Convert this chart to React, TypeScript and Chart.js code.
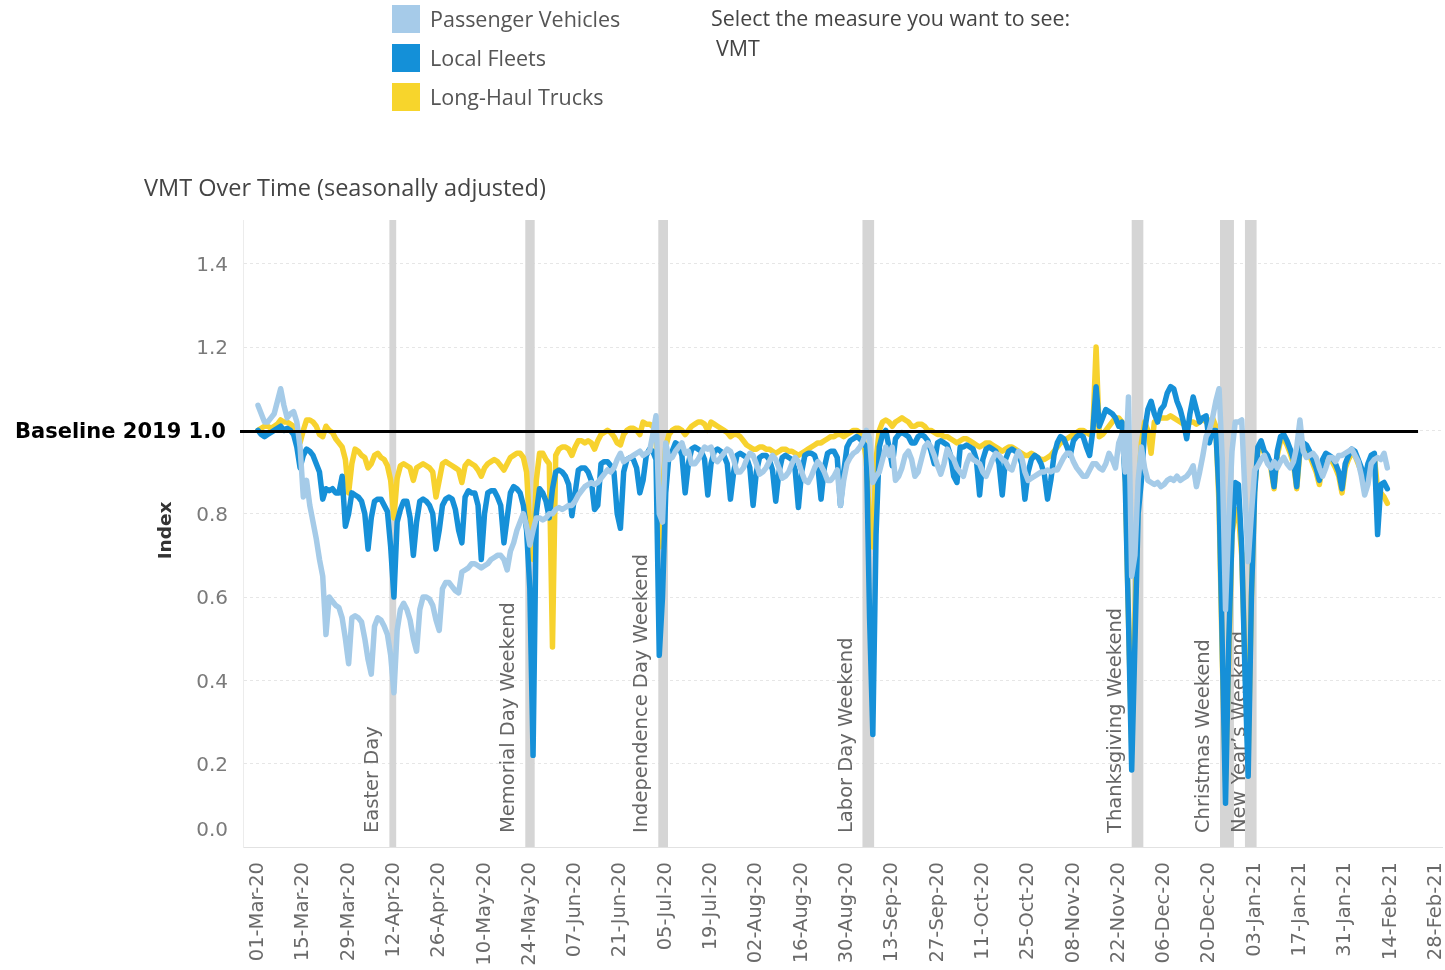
import React, { useEffect, useRef } from "react";
import { Chart, registerables } from "chart.js";

Chart.register(...registerables);

// x tick labels, one every 14 days starting 01-Mar-20 (day 0)
const tickLabels = [
  "01-Mar-20", "15-Mar-20", "29-Mar-20", "12-Apr-20", "26-Apr-20", "10-May-20", "24-May-20",
  "07-Jun-20", "21-Jun-20", "05-Jul-20", "19-Jul-20", "02-Aug-20", "16-Aug-20", "30-Aug-20",
  "13-Sep-20", "27-Sep-20", "11-Oct-20", "25-Oct-20", "08-Nov-20", "22-Nov-20", "06-Dec-20",
  "20-Dec-20", "03-Jan-21", "17-Jan-21", "31-Jan-21", "14-Feb-21", "28-Feb-21",
];
const tickStepDays = 14;

const yTicks = [0, 0.2, 0.4, 0.6, 0.8, 1.0, 1.2, 1.4];
const yTickLabels = ["0.0", "0.2", "0.4", "0.6", "0.8", "1.0", "1.2", "1.4"];
const baselineValue = 1.0;
const baselineEndDay = 358.5;

// holidays (day index from 01-Mar-20)
const holidayNames = [
  "Easter Day", "Memorial Day Weekend", "Independence Day Weekend", "Labor Day Weekend",
  "Thanksgiving Weekend", "Christmas Weekend", "New Year\u2019s Weekend",
];
const holidayStart = [40.6, 82.6, 123.7, 186.8, 270.0, 297.3, 305.0];
const holidayEnd = [42.7, 85.5, 126.7, 190.4, 273.6, 301.6, 308.6];
const holidayLabelGap = [16, 16, 16, 16, 16, 16, 5];

// daily values, one row per week (Sun..Sat), starting Sun 01-Mar-20
const passengerVehicles = [
  1.06, 1.04, 1.02, 1.02, 1.03, 1.04, 1.07,
  1.10, 1.06, 1.03, 1.04, 1.045, 1.02, 0.96,
  0.84, 0.88, 0.82, 0.78, 0.74, 0.69, 0.65,
  0.51, 0.60, 0.59, 0.58, 0.575, 0.55, 0.50,
  0.44, 0.55, 0.555, 0.55, 0.54, 0.50, 0.45,
  0.415, 0.53, 0.55, 0.545, 0.53, 0.51, 0.46,
  0.37, 0.52, 0.57, 0.585, 0.57, 0.545, 0.50,
  0.47, 0.57, 0.60, 0.60, 0.595, 0.58, 0.545,
  0.52, 0.62, 0.635, 0.635, 0.625, 0.615, 0.61,
  0.66, 0.665, 0.67, 0.68, 0.68, 0.675, 0.67,
  0.675, 0.68, 0.69, 0.695, 0.70, 0.70, 0.69,
  0.665, 0.71, 0.73, 0.76, 0.78, 0.80, 0.77,
  0.725, 0.76, 0.79, 0.79, 0.785, 0.79, 0.80,
  0.80, 0.81, 0.815, 0.81, 0.815, 0.82, 0.82,
  0.83, 0.845, 0.855, 0.865, 0.87, 0.875, 0.87,
  0.875, 0.885, 0.895, 0.905, 0.90, 0.91, 0.93,
  0.945, 0.925, 0.93, 0.935, 0.94, 0.945, 0.95,
  0.94, 0.945, 0.95, 0.99, 1.035, 0.80, 0.78,
  0.97, 0.93, 0.935, 0.95, 0.96, 0.97, 0.945,
  0.95, 0.92, 0.92, 0.93, 0.945, 0.96, 0.955,
  0.96, 0.93, 0.925, 0.935, 0.945, 0.955, 0.95,
  0.93, 0.90, 0.90, 0.91, 0.93, 0.945, 0.94,
  0.92, 0.895, 0.90, 0.91, 0.925, 0.94, 0.93,
  0.91, 0.885, 0.89, 0.90, 0.92, 0.935, 0.925,
  0.90, 0.88, 0.875, 0.89, 0.91, 0.925, 0.915,
  0.90, 0.88, 0.88, 0.89, 0.905, 0.82, 0.88,
  0.92, 0.935, 0.945, 0.95, 0.96, 0.975, 1.00,
  0.98, 0.875, 0.89, 0.90, 0.93, 0.96, 0.94,
  0.96, 0.88, 0.89, 0.91, 0.94, 0.95, 0.93,
  0.89, 0.90, 0.93, 0.96, 0.97, 0.96, 0.94,
  0.915, 0.895, 0.92, 0.955, 0.94, 0.93, 0.91,
  0.90, 0.89, 0.92, 0.94, 0.93, 0.925, 0.92,
  0.90, 0.89, 0.91, 0.93, 0.945, 0.94, 0.93,
  0.925, 0.91, 0.905, 0.93, 0.95, 0.935, 0.90,
  0.88, 0.885, 0.89, 0.895, 0.90, 0.90, 0.905,
  0.90, 0.905, 0.905, 0.92, 0.935, 0.945, 0.945,
  0.925, 0.91, 0.90, 0.89, 0.89, 0.905, 0.92,
  0.92, 0.91, 0.905, 0.92, 0.945, 0.93, 0.91,
  0.97, 0.99, 0.90, 1.08, 0.65, 0.70, 0.88,
  0.96, 0.91, 0.88, 0.875, 0.87, 0.875, 0.865,
  0.87, 0.88, 0.885, 0.88, 0.89, 0.88, 0.885,
  0.89, 0.90, 0.915, 0.865, 0.90, 0.94, 0.985,
  1.00, 1.03, 1.07, 1.10, 0.93, 0.57, 0.78,
  0.95, 1.02, 1.02, 1.025, 0.85, 0.685, 0.80,
  0.905, 0.915, 0.93, 0.94, 0.92, 0.91, 0.925,
  0.91, 0.925, 0.935, 0.92, 0.91, 0.925, 0.96,
  1.025, 0.95, 0.935, 0.94, 0.945, 0.935, 0.91,
  0.89, 0.91, 0.935, 0.935, 0.925, 0.94, 0.94,
  0.945, 0.95, 0.955, 0.94, 0.925, 0.89, 0.845,
  0.87, 0.92, 0.93, 0.935, 0.93, 0.945, 0.91,
];

const localFleets = [
  1.00, 0.99, 0.985, 0.99, 0.995, 1.00, 1.005,
  1.01, 1.00, 1.005, 1.00, 0.99, 0.96, 0.91,
  0.94, 0.955, 0.95, 0.94, 0.92, 0.90, 0.835,
  0.86, 0.855, 0.86, 0.85, 0.85, 0.89, 0.77,
  0.80, 0.85, 0.845, 0.84, 0.83, 0.80, 0.715,
  0.79, 0.83, 0.835, 0.835, 0.82, 0.805, 0.72,
  0.60, 0.78, 0.81, 0.83, 0.83, 0.79, 0.70,
  0.78, 0.83, 0.835, 0.83, 0.82, 0.80, 0.715,
  0.76, 0.82, 0.835, 0.84, 0.835, 0.81, 0.76,
  0.73, 0.84, 0.855, 0.85, 0.85, 0.82, 0.69,
  0.80, 0.85, 0.855, 0.855, 0.84, 0.82, 0.73,
  0.79, 0.85, 0.865, 0.86, 0.85, 0.82, 0.76,
  0.62, 0.22, 0.80, 0.86, 0.85, 0.83, 0.79,
  0.86, 0.90, 0.905, 0.90, 0.89, 0.87, 0.795,
  0.85, 0.905, 0.91, 0.91, 0.90, 0.88, 0.81,
  0.82, 0.92, 0.925, 0.925, 0.915, 0.90, 0.80,
  0.765, 0.90, 0.93, 0.935, 0.93, 0.91, 0.85,
  0.88, 0.94, 0.955, 0.95, 0.93, 0.46, 0.60,
  0.85, 0.94, 0.95, 0.97, 0.965, 0.94, 0.85,
  0.92, 0.955, 0.96, 0.955, 0.95, 0.93, 0.845,
  0.92, 0.95, 0.955, 0.95, 0.94, 0.92, 0.835,
  0.90, 0.94, 0.945, 0.94, 0.935, 0.91, 0.82,
  0.90, 0.935, 0.94, 0.94, 0.93, 0.905, 0.83,
  0.90, 0.935, 0.94, 0.935, 0.93, 0.905, 0.815,
  0.90, 0.94, 0.945, 0.945, 0.94, 0.915, 0.835,
  0.91, 0.945, 0.95, 0.95, 0.935, 0.82, 0.90,
  0.96, 0.975, 0.98, 0.985, 0.98, 0.97, 0.96,
  0.55, 0.27, 0.75, 0.96, 0.99, 1.00, 0.96,
  0.915, 0.98, 0.99, 0.995, 0.99, 0.985, 0.97,
  0.97, 0.985, 0.99, 0.985, 0.975, 0.95, 0.92,
  0.97, 0.975, 0.97, 0.965, 0.94, 0.89, 0.875,
  0.96, 0.96, 0.965, 0.96, 0.955, 0.93, 0.845,
  0.93, 0.955, 0.96, 0.955, 0.95, 0.92, 0.845,
  0.93, 0.95, 0.955, 0.95, 0.945, 0.92, 0.835,
  0.90, 0.93, 0.94, 0.935, 0.92, 0.895, 0.835,
  0.88, 0.94, 0.97, 0.985, 0.98, 0.96, 0.94,
  0.975, 0.985, 0.99, 0.985, 0.96, 0.94, 1.00,
  1.105, 1.01, 1.03, 1.05, 1.045, 1.04, 1.03,
  1.01, 1.02, 0.875, 0.55, 0.185, 0.49, 0.80,
  0.88, 1.00, 1.05, 1.07, 1.04, 1.02, 1.05,
  1.06, 1.09, 1.105, 1.10, 1.07, 1.05, 1.02,
  0.98, 1.04, 1.08, 1.05, 1.02, 1.03, 1.035,
  0.97, 1.00, 1.00, 0.85, 0.48, 0.105, 0.49,
  0.75, 0.875, 0.87, 0.72, 0.42, 0.17, 0.60,
  0.85, 0.96, 0.975, 0.95, 0.94, 0.92, 0.865,
  0.95, 0.985, 0.99, 0.975, 0.955, 0.93, 0.865,
  0.96, 0.97, 0.965, 0.95, 0.93, 0.91, 0.88,
  0.93, 0.945, 0.94, 0.935, 0.92, 0.90, 0.86,
  0.92, 0.94, 0.955, 0.95, 0.93, 0.91, 0.88,
  0.92, 0.94, 0.945, 0.75, 0.87, 0.875, 0.86,
];

const longHaulTrucks = [
  1.00, 1.005, 1.01, 1.01, 1.005, 1.01, 1.015,
  1.025, 1.02, 1.02, 1.015, 1.01, 1.00, 0.97,
  1.00, 1.025, 1.025, 1.02, 1.01, 0.99, 0.985,
  1.01, 1.00, 0.995, 0.98, 0.97, 0.96, 0.93,
  0.85, 0.92, 0.955, 0.95, 0.94, 0.935, 0.91,
  0.92, 0.94, 0.945, 0.935, 0.93, 0.915, 0.88,
  0.79, 0.885, 0.915, 0.92, 0.915, 0.91, 0.88,
  0.91, 0.915, 0.92, 0.915, 0.91, 0.90, 0.84,
  0.88, 0.92, 0.925, 0.92, 0.915, 0.91, 0.905,
  0.875, 0.915, 0.925, 0.92, 0.915, 0.905, 0.89,
  0.91, 0.92, 0.925, 0.93, 0.925, 0.915, 0.905,
  0.92, 0.935, 0.94, 0.945, 0.945, 0.935, 0.90,
  0.765, 0.69, 0.88, 0.945, 0.945, 0.93, 0.92,
  0.48, 0.94, 0.955, 0.96, 0.96, 0.955, 0.94,
  0.96, 0.975, 0.975, 0.97, 0.975, 0.97, 0.955,
  0.975, 0.99, 0.995, 1.00, 0.995, 0.985, 0.97,
  0.965, 0.99, 1.00, 1.005, 1.005, 1.00, 0.99,
  1.02, 1.015, 1.015, 1.01, 0.99, 0.72, 0.85,
  0.96, 0.99, 1.00, 1.005, 1.005, 1.00, 0.99,
  1.00, 1.01, 1.015, 1.02, 1.02, 1.015, 1.00,
  1.02, 1.015, 1.01, 1.005, 1.00, 0.995, 0.985,
  0.99, 0.99, 0.985, 0.975, 0.965, 0.96, 0.955,
  0.955, 0.96, 0.96, 0.955, 0.955, 0.95, 0.945,
  0.95, 0.955, 0.955, 0.95, 0.95, 0.945, 0.94,
  0.945, 0.95, 0.955, 0.96, 0.965, 0.97, 0.97,
  0.975, 0.98, 0.985, 0.985, 0.99, 0.99, 0.985,
  0.99, 0.995, 1.00, 1.00, 0.995, 0.98, 0.93,
  0.77, 0.72, 0.93, 1.00, 1.02, 1.025, 1.02,
  1.01, 1.02, 1.025, 1.03, 1.025, 1.02, 1.01,
  1.01, 1.015, 1.015, 1.01, 1.00, 1.00, 0.995,
  0.99, 0.99, 0.985, 0.985, 0.98, 0.975, 0.97,
  0.975, 0.98, 0.98, 0.975, 0.97, 0.965, 0.96,
  0.965, 0.97, 0.97, 0.965, 0.96, 0.955, 0.95,
  0.955, 0.96, 0.96, 0.955, 0.95, 0.945, 0.94,
  0.94, 0.945, 0.94, 0.935, 0.93, 0.93, 0.935,
  0.94, 0.95, 0.96, 0.97, 0.975, 0.98, 0.985,
  0.99, 0.995, 1.00, 1.00, 0.995, 0.99, 1.00,
  1.20, 0.985, 0.99, 1.00, 1.01, 1.02, 1.03,
  1.03, 1.02, 0.90, 0.55, 0.25, 0.55, 0.85,
  0.97, 1.02, 1.00, 0.945, 1.02, 1.025, 1.03,
  1.03, 1.03, 1.035, 1.03, 1.025, 1.02, 1.015,
  1.01, 1.02, 1.02, 1.015, 1.02, 1.03, 1.02,
  1.02, 1.03, 1.01, 0.82, 0.45, 0.16, 0.45,
  0.75, 0.81, 0.80, 0.70, 0.45, 0.22, 0.60,
  0.86, 0.95, 0.96, 0.945, 0.93, 0.91, 0.86,
  0.94, 0.975, 0.98, 0.965, 0.945, 0.92, 0.86,
  0.95, 0.96, 0.955, 0.94, 0.92, 0.90, 0.87,
  0.92, 0.935, 0.93, 0.925, 0.91, 0.89, 0.85,
  0.91, 0.93, 0.945, 0.94, 0.92, 0.90, 0.87,
  0.91, 0.93, 0.935, 0.86, 0.85, 0.84, 0.825,
];

const seriesNames = ["Passenger Vehicles", "Local Fleets", "Long-Haul Trucks"];
const seriesColors = ["#a5cbe8", "#1690d8", "#f7d22e"];
const legendColors = ["#a6cbe9", "#1490d8", "#f7d52c"];

const toPoints = (arr: number[]) => arr.map((v, i) => ({ x: i, y: v }));

const decorPlugin = {
  id: "decor",
  beforeDatasetsDraw(chart: any) {
    const { ctx, chartArea, scales } = chart;
    const xs = scales.x;
    ctx.save();
    // holiday bands
    ctx.fillStyle = "#d5d5d5";
    for (let i = 0; i < holidayNames.length; i++) {
      const x1 = xs.getPixelForValue(holidayStart[i]);
      const x2 = xs.getPixelForValue(holidayEnd[i]);
      ctx.fillRect(x1, chartArea.top, x2 - x1, chartArea.bottom - chartArea.top);
    }
    // holiday labels
    ctx.fillStyle = "#666666";
    ctx.font = "19.5px 'DejaVu Sans'";
    ctx.textAlign = "left";
    ctx.textBaseline = "middle";
    for (let i = 0; i < holidayNames.length; i++) {
      const x1 = xs.getPixelForValue(holidayStart[i]);
      ctx.save();
      ctx.translate(x1 - holidayLabelGap[i], chartArea.bottom - 14);
      ctx.rotate(-Math.PI / 2);
      ctx.fillText(holidayNames[i], 0, 0);
      ctx.restore();
    }
    ctx.restore();
  },
  afterDatasetsDraw(chart: any) {
    const { ctx, chartArea, scales } = chart;
    const xs = scales.x;
    const ys = scales.y;
    ctx.save();
    // baseline
    const yb = ys.getPixelForValue(baselineValue) + 1;
    ctx.strokeStyle = "#000000";
    ctx.lineWidth = 3;
    ctx.beginPath();
    ctx.moveTo(chartArea.left - 3, yb);
    ctx.lineTo(xs.getPixelForValue(baselineEndDay), yb);
    ctx.stroke();
    ctx.fillStyle = "#000000";
    ctx.font = "bold 21px 'DejaVu Sans'";
    ctx.textAlign = "left";
    ctx.textBaseline = "middle";
    ctx.fillText("Baseline 2019 1.0", 15, yb + 1);
    // y tick labels
    ctx.fillStyle = "#7a7a7a";
    ctx.font = "20px 'DejaVu Sans'";
    ctx.textAlign = "right";
    for (let i = 0; i < yTicks.length; i++) {
      if (yTicks[i] === baselineValue) continue;
      let y = ys.getPixelForValue(yTicks[i]) + 2;
      y = Math.min(y, chartArea.bottom - 16);
      ctx.fillText(yTickLabels[i], 228, y);
    }
    // axis title
    ctx.fillStyle = "#333333";
    ctx.font = "bold 18.5px 'DejaVu Sans'";
    ctx.textAlign = "center";
    ctx.save();
    ctx.translate(166, ys.getPixelForValue(0.76));
    ctx.rotate(-Math.PI / 2);
    ctx.fillText("Index", 0, 0);
    ctx.restore();
    ctx.restore();
  },
};

export default function App() {
  const canvasRef = useRef<HTMLCanvasElement | null>(null);

  useEffect(() => {
    document.body.style.margin = "0";
    document.body.style.overflow = "hidden";
    const canvas = canvasRef.current;
    if (!canvas) return;
    const seriesData = [passengerVehicles, localFleets, longHaulTrucks];
    const chart = new Chart(canvas, {
      type: "line",
      data: {
        datasets: seriesData.map((arr, i) => ({
          label: seriesNames[i],
          data: toPoints(arr),
          borderColor: seriesColors[i],
          backgroundColor: seriesColors[i],
          borderWidth: 5.5,
          pointRadius: 0,
          pointHoverRadius: 0,
          tension: 0,
          fill: false,
          borderJoinStyle: "round",
          borderCapStyle: "round",
        })),
      },
      options: {
        animation: false,
        responsive: false,
        devicePixelRatio: 1,
        layout: { padding: { left: 0, right: 3, top: 220, bottom: 0 } },
        plugins: {
          legend: { display: false },
          tooltip: { enabled: false },
          title: { display: false },
        },
        scales: {
          x: {
            type: "linear",
            min: -4.64,
            max: 365.9,
            afterBuildTicks: (s: any) => {
              s.ticks = tickLabels.map((_, i) => ({ value: i * tickStepDays }));
            },
            afterFit: (s: any) => {
              s.height = 123;
              s.paddingLeft = 0;
              s.paddingRight = 0;
            },
            ticks: {
              autoSkip: false,
              maxRotation: 90,
              minRotation: 90,
              padding: 15,
              color: "#6a6a6a",
              font: { family: "'DejaVu Sans'", size: 19.5 },
              callback: (v: any) => tickLabels[Math.round(Number(v) / tickStepDays)] ?? "",
            },
            grid: { display: false, drawTicks: false },
            border: { display: true, color: "#e2e2e2", width: 1 },
          },
          y: {
            min: 0,
            max: 1.505,
            afterBuildTicks: (s: any) => {
              s.ticks = yTicks.map((v) => ({ value: v }));
            },
            afterFit: (s: any) => {
              s.width = 243;
            },
            ticks: { display: false },
            grid: { display: true, color: "#e6e6e6", lineWidth: 1, drawTicks: false },
            border: { display: true, color: "#ececec", width: 1, dash: [3, 3] },
          },
        },
      } as any,
      plugins: [decorPlugin],
    });
    return () => chart.destroy();
  }, []);

  const font = "'Open Sans', sans-serif";
  const legendTops = [5, 44, 83];

  return (
    <div style={{ position: "absolute", left: 0, top: 0, width: 1445, height: 970, background: "#ffffff", fontFamily: font }}>
      <canvas ref={canvasRef} width={1445} height={970} style={{ position: "absolute", left: 0, top: 0, width: 1445, height: 970 }} />
      {seriesNames.map((name, i) => (
        <React.Fragment key={name}>
          <div style={{ position: "absolute", left: 392, top: legendTops[i], width: 28, height: 28, background: legendColors[i] }} />
          <div style={{ position: "absolute", left: 430, top: legendTops[i], height: 28, lineHeight: "28px", fontSize: 21.5, color: "#555555", whiteSpace: "nowrap" }}>{name}</div>
        </React.Fragment>
      ))}
      <div style={{ position: "absolute", left: 711, top: 4, lineHeight: "28px", fontSize: 21.4, color: "#444444", whiteSpace: "nowrap" }}>Select the measure you want to see:</div>
      <div style={{ position: "absolute", left: 716, top: 34, lineHeight: "28px", fontSize: 21.4, color: "#444444", whiteSpace: "nowrap" }}>VMT</div>
      <div style={{ position: "absolute", left: 144, top: 171, lineHeight: "32px", fontSize: 23.5, color: "#444444", whiteSpace: "nowrap" }}>VMT Over Time (seasonally adjusted)</div>
    </div>
  );
}
